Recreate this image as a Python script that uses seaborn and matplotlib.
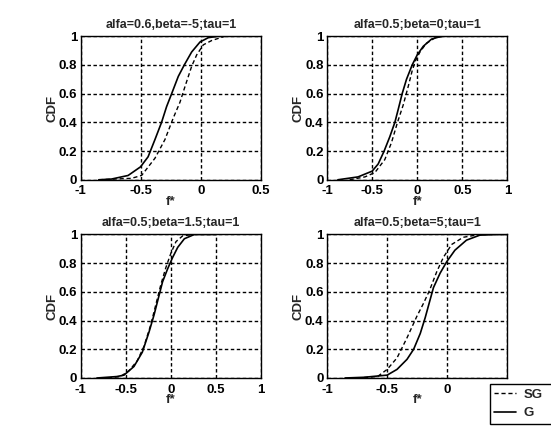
import seaborn as sns
import matplotlib.pyplot as plt

# panel titles and x ranges
titles = ["alfa=0.6,beta=-5;tau=1", "alfa=0.5;beta=0;tau=1",
          "alfa=0.5;beta=1.5;tau=1", "alfa=0.5;beta=5;tau=1"]
x_max = [0.5, 1, 1, 0.5]

# CDF readings, G = solid, SG = dashed
p1_g_x = [-0.85, -0.744, -0.606, -0.503, -0.44, -0.383, -0.328, -0.286, -0.244, -0.189, -0.139, -0.078, -0.008, 0.061, 0.144, 0.3, 0.5]
p1_g_y = [0.0, 0.005, 0.03, 0.09, 0.16, 0.28, 0.40, 0.51, 0.60, 0.72, 0.80, 0.89, 0.96, 0.99, 1.0, 1.0, 1.0]
p1_sg_x = [-0.85, -0.578, -0.494, -0.383, -0.3, -0.231, -0.175, -0.133, -0.078, -0.036, 0.019, 0.089, 0.2, 0.35, 0.5]
p1_sg_y = [0.0, 0.01, 0.03, 0.15, 0.28, 0.43, 0.54, 0.65, 0.79, 0.87, 0.94, 0.97, 1.0, 1.0, 1.0]

p2_g_x = [-0.88, -0.656, -0.5, -0.433, -0.367, -0.304, -0.248, -0.211, -0.167, -0.119, -0.056, 0.0, 0.067, 0.159, 0.27, 0.5]
p2_g_y = [0.0, 0.02, 0.06, 0.11, 0.20, 0.30, 0.40, 0.49, 0.60, 0.70, 0.80, 0.87, 0.93, 0.98, 1.0, 1.0]
p2_sg_x = [-0.75, -0.58, -0.47, -0.36, -0.285, -0.219, -0.156, -0.1, -0.056, -0.019, 0.03, 0.1, 0.2, 0.3, 0.5]
p2_sg_y = [0.0, 0.02, 0.05, 0.14, 0.26, 0.40, 0.52, 0.65, 0.76, 0.83, 0.89, 0.95, 0.99, 1.0, 1.0]

p3_g_x = [-0.82, -0.6, -0.52, -0.41, -0.317, -0.243, -0.187, -0.142, -0.093, -0.037, 0.019, 0.075, 0.149, 0.26, 0.5]
p3_g_y = [0.0, 0.01, 0.02, 0.08, 0.18, 0.32, 0.44, 0.55, 0.67, 0.76, 0.84, 0.91, 0.97, 1.0, 1.0]
p3_sg_x = [-0.7, -0.56, -0.466, -0.373, -0.299, -0.224, -0.168, -0.112, -0.056, 0.0, 0.056, 0.13, 0.25, 0.5]
p3_sg_y = [0.0, 0.01, 0.05, 0.12, 0.22, 0.37, 0.51, 0.65, 0.77, 0.87, 0.95, 0.99, 1.0, 1.0]

p4_g_x = [-0.85, -0.69, -0.5, -0.418, -0.335, -0.28, -0.225, -0.184, -0.148, -0.115, -0.06, -0.005, 0.063, 0.159, 0.27, 0.41, 0.5]
p4_g_y = [0.0, 0.005, 0.02, 0.06, 0.13, 0.20, 0.31, 0.42, 0.53, 0.63, 0.73, 0.81, 0.89, 0.96, 0.995, 1.0, 1.0]
p4_sg_x = [-0.75, -0.58, -0.5, -0.418, -0.335, -0.253, -0.198, -0.148, -0.088, -0.033, 0.036, 0.132, 0.27, 0.5]
p4_sg_y = [0.0, 0.01, 0.06, 0.14, 0.28, 0.43, 0.52, 0.61, 0.74, 0.84, 0.93, 0.98, 1.0, 1.0]

g_series = [(p1_g_x, p1_g_y), (p2_g_x, p2_g_y), (p3_g_x, p3_g_y), (p4_g_x, p4_g_y)]
sg_series = [(p1_sg_x, p1_sg_y), (p2_sg_x, p2_sg_y), (p3_sg_x, p3_sg_y), (p4_sg_x, p4_sg_y)]

sns.set_style("white")
plt.rcParams['font.family'] = ['Liberation Sans', 'DejaVu Sans']

fig = plt.figure(figsize=(5.51, 4.26), dpi=100)
fig.patch.set_facecolor("white")

lefts = [0.1465, 0.5935, 0.1465, 0.5935]
bottoms = [0.578, 0.578, 0.1127, 0.1127]

for i in range(4):
    ax = fig.add_axes([lefts[i], bottoms[i], 0.3275, 0.337])
    gx, gy = g_series[i]
    sx, sy = sg_series[i]
    sns.lineplot(x=sx, y=sy, ax=ax, color="black", linestyle=(0, (3, 2)),
                 linewidth=1.0, label="SG", legend=False)
    sns.lineplot(x=gx, y=gy, ax=ax, color="black", linewidth=1.2,
                 label="G", legend=False)
    ax.set_xlim(-1, x_max[i])
    ax.set_ylim(0, 1)
    xt = [-1, -0.5, 0, 0.5, 1][: 4 if x_max[i] == 0.5 else 5]
    ax.set_xticks(xt)
    ax.set_xticklabels([f"{v:g}" for v in xt])
    ax.set_yticks([0, 0.2, 0.4, 0.6, 0.8, 1])
    ax.set_yticklabels(["0", "0.2", "0.4", "0.6", "0.8", "1"])
    ax.tick_params(direction="in", length=3, width=0.8, labelsize=9.5,
                   colors="black")
    ax.tick_params(axis="x", pad=4)
    ax.tick_params(axis="y", pad=2.5)
    for lab in ax.get_xticklabels() + ax.get_yticklabels():
        lab.set_fontweight("bold")
    ax.grid(True, color="black", linestyle=(0, (2.5, 1.8)), linewidth=1.0)
    for s in ax.spines.values():
        s.set_color("black")
        s.set_linewidth(1.0)
    ax.set_title(titles[i], fontsize=9, fontweight="bold", pad=6)
    ax.set_xlabel("f*", fontsize=9.5, fontweight="bold", labelpad=-1)
    ax.set_ylabel("CDF", fontsize=9.5, fontweight="bold", labelpad=0)
    if i == 3:
        handles, labels = ax.get_legend_handles_labels()

leg = fig.legend(handles, labels, loc="upper left",
                 bbox_to_anchor=(0.889, 0.0, 0.2, 0.098), mode="expand",
                 frameon=True, fancybox=False, edgecolor="black", fontsize=9.5,
                 framealpha=1, facecolor="white",
                 handlelength=1.6, handletextpad=0.6, borderpad=0.35,
                 labelspacing=0.45, borderaxespad=0)
leg.get_frame().set_linewidth(1.0)
for t in leg.get_texts():
    t.set_fontweight("bold")

fig.savefig("out.png", dpi=100, facecolor="white")
